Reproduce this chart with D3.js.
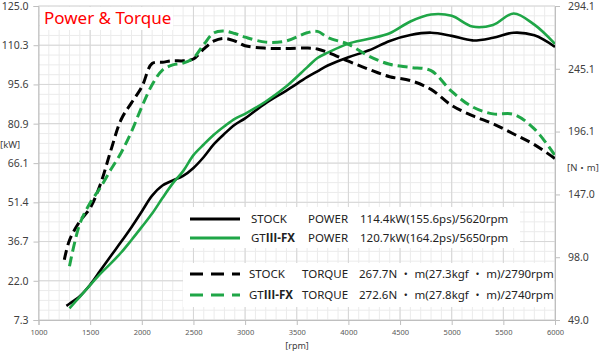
<!DOCTYPE html>
<html>
<head>
<meta charset="utf-8">
<script src="https://cdn.jsdelivr.net/npm/d3@7"></script>
<style>
  body { margin: 0; background: #fff; }
  text { font-family: "Noto Sans", "Noto Sans CJK JP", sans-serif; }
</style>
</head>
<body>
<div id="chart"></div>
<script>
// values
const rpm = [1250, 1300, 1400, 1500, 1600, 1700, 1800, 1900, 2000, 2100, 2200, 2300, 2400, 2500, 2600, 2700, 2800, 2900, 3000,
    3200, 3400, 3600, 3700, 3800, 4000, 4200, 4400, 4600, 4800, 5000, 5200, 5400, 5600, 5800, 6000];

// kW
const stockPower = [null, 13.4, 16.2, 20.5, 25.9, 31.3, 36.6, 42.1, 48.0, 53.9, 57.7, 59.6, 61.3, 64.3, 68.4, 73.3, 77.1, 80.5, 82.9,
    88.6, 93.3, 98.3, 100.5, 102.7, 105.8, 108.4, 111.9, 114.1, 115.0, 113.8, 112.1, 113.1, 115.0, 114.0, 109.7];
const gtPower = [null, 11.7, 16.0, 20.4, 24.7, 28.5, 32.6, 37.3, 42.2, 47.2, 53.0, 58.5, 63.1, 69.1, 73.1, 76.8, 79.9, 82.7, 84.6,
    89.2, 94.9, 102.0, 105.5, 107.5, 110.9, 112.7, 114.8, 119.2, 121.8, 121.3, 117.3, 117.9, 122.2, 118.0, 110.8];

// N・m
const stockTorque = [96.0, 111.3, 126.1, 136.4, 155.1, 181.3, 205.5, 218.5, 230.9, 249.2, 250.2, 251.4, 251.3, 252.7, 260.6, 266.8, 268.8, 266.8, 263.1,
    261.2, 261.0, 261.3, 260.6, 257.9, 251.0, 244.6, 238.9, 235.9, 229.0, 216.5, 208.5, 202.2, 194.2, 185.9, 175.0];
const gtTorque = [null, 91.0, 124.1, 140.4, 152.5, 166.4, 179.6, 196.0, 215.4, 232.6, 244.1, 248.1, 249.5, 253.5, 264.1, 273.2, 274.5, 272.6, 269.8,
    265.9, 266.8, 273.2, 274.3, 269.5, 264.2, 254.9, 248.6, 246.2, 243.6, 227.4, 215.4, 209.9, 209.5, 198.2, 177.4];

const stockPowerStart = [1270, 12.6];   // stock power trace starts a little later than the torque trace

const rpmTicks = [1000, 1500, 2000, 2500, 3000, 3500, 4000, 4500, 5000, 5500, 6000];
const powerTicks = [7.3, 22.0, 36.7, 51.4, 66.1, 80.9, 95.6, 110.3, 125.0];
const torqueTicks = [49.0, 98.0, 147.0, 196.1, 245.1, 294.1];

const legendKind = ["POWER", "POWER", "TORQUE", "TORQUE"];
const legendValue = [
    "114.4kW(155.6ps)/5620rpm",
    "120.7kW(164.2ps)/5650rpm",
    "267.7N ・ m(27.3kgf ・ m)/2790rpm",
    "272.6N ・ m(27.8kgf ・ m)/2740rpm"
];

const GREEN = "#1fa647";

var width = 600, height = 352;

var svg = d3.select("#chart")
    .append("svg")
    .attr("width", width)
    .attr("height", height);

var x = d3.scaleLinear().domain([1000, 6000]).range([38.5, 555]);
var yP = d3.scaleLinear().domain([7.3, 125.0]).range([320, 6]);
var yT = d3.scaleLinear().domain([49.0, 294.1]).range([320, 6]);

// graph paper grid
var grid = svg.append("g");
grid.selectAll("vMinor")
    .data(d3.range(1000, 6001, 100))
    .enter().append("line")
    .attr("x1", d => x(d)).attr("x2", d => x(d))
    .attr("y1", yP(125)).attr("y2", yP(7.3))
    .attr("stroke", "#ebebeb");
grid.selectAll("hMinor")
    .data(d3.range(0, 33).map(i => 7.3 + i * (125 - 7.3) / 32))
    .enter().append("line")
    .attr("x1", x(1000)).attr("x2", x(6000))
    .attr("y1", d => yP(d)).attr("y2", d => yP(d))
    .attr("stroke", "#ebebeb");
grid.selectAll("vMajor")
    .data(rpmTicks)
    .enter().append("line")
    .attr("x1", d => x(d)).attr("x2", d => x(d))
    .attr("y1", yP(125)).attr("y2", yP(7.3))
    .attr("stroke", "#d6d6d6");
grid.selectAll("hMajor")
    .data(powerTicks)
    .enter().append("line")
    .attr("x1", x(1000)).attr("x2", x(6000))
    .attr("y1", d => yP(d)).attr("y2", d => yP(d))
    .attr("stroke", "#d6d6d6");

// white boxes over the grid
svg.append("rect").attr("x", 40).attr("y", 7).attr("width", 133).attr("height", 23).attr("fill", "#fff");
svg.append("rect").attr("x", 180).attr("y", 207).attr("width", 340).attr("height", 41).attr("fill", "#fff");
svg.append("rect").attr("x", 183).attr("y", 263).attr("width", 371).attr("height", 44).attr("fill", "#fff");

svg.append("text")
    .attr("x", 44).attr("y", 24)
    .style("font-size", "17px")
    .attr("fill", "#ff0000")
    .text("Power & Torque");

// curves
var series = [
    {vals: stockPower, y: yP, color: "#000", dash: null},
    {vals: gtPower, y: yP, color: GREEN, dash: null},
    {vals: stockTorque, y: yT, color: "#000", dash: "10,5"},
    {vals: gtTorque, y: yT, color: GREEN, dash: "10,5"}
];

series.forEach(function(s, k) {
    var line = d3.line()
        .defined(d => d[1] != null)
        .x(d => x(d[0]))
        .y(d => s.y(d[1]))
        .curve(d3.curveCatmullRom.alpha(0.5));
    var pts = rpm.map((r, i) => [r, s.vals[i]]);
    if (k == 0) pts[0] = stockPowerStart;
    svg.append("path")
        .datum(pts)
        .attr("d", line)
        .attr("fill", "none")
        .attr("stroke", s.color)
        .attr("stroke-width", s.dash ? 3 : 2.6)
        .attr("stroke-dasharray", s.dash);
});

// axes
var axisL = svg.append("g")
    .attr("transform", "translate(" + x(1000) + ",0)")
    .call(d3.axisLeft(yP).tickValues(powerTicks).tickFormat(d3.format(".1f")).tickSize(5).tickPadding(5));
var axisR = svg.append("g")
    .attr("transform", "translate(" + x(6000) + ",0)")
    .call(d3.axisRight(yT).tickValues(torqueTicks).tickFormat(d3.format(".1f")).tickSize(5).tickPadding(8));
var axisB = svg.append("g")
    .attr("transform", "translate(0," + yP(7.3) + ")")
    .call(d3.axisBottom(x).tickValues(rpmTicks).tickFormat(d3.format("d")).tickSize(5).tickPadding(5));

[axisL, axisR, axisB].forEach(function(a) {
    a.select(".domain").attr("stroke", "#bfbfbf");
    a.selectAll(".tick line").attr("stroke", "#bfbfbf");
    a.selectAll("text").attr("fill", "#404040").style("font-family", "'Noto Sans', sans-serif");
});
axisL.selectAll("text").style("font-size", "10.5px");
axisR.selectAll("text").style("font-size", "10.5px");
axisB.selectAll("text").style("font-size", "7.5px").attr("fill", "#595959");

svg.append("text").attr("x", 0).attr("y", 148)
    .style("font-size", "9.5px").attr("fill", "#404040").text("[kW]");
svg.append("text").attr("x", 567).attr("y", 171)
    .style("font-size", "9.5px").attr("fill", "#404040").text("[N・m]");
svg.append("text").attr("x", 297).attr("y", 349)
    .attr("text-anchor", "middle")
    .style("font-size", "9px").attr("fill", "#404040").text("[rpm]");

// legend
var rowY = [219, 238, 274, 295];
var colX = [[251, 308, 360], [251, 308, 360], [249, 302, 359], [249, 302, 359]];

series.forEach(function(s, i) {
    svg.append("line")
        .attr("x1", 190).attr("x2", 240)
        .attr("y1", rowY[i]).attr("y2", rowY[i])
        .attr("stroke", s.color)
        .attr("stroke-width", 3)
        .attr("stroke-dasharray", s.dash ? "13,8" : null);

    var name = svg.append("text")
        .attr("x", colX[i][0]).attr("y", rowY[i] + 4)
        .style("font-size", "11.5px").attr("fill", "#222");
    if (i % 2 == 0) {
        name.text("STOCK");
    } else {
        name.append("tspan").text("GT");
        name.append("tspan").text("Ⅲ")
            .style("font-family", "'Noto Sans CJK JP', sans-serif")
            .style("font-weight", "bold");
        name.append("tspan").text("-FX").style("font-weight", "bold");
    }
    svg.append("text")
        .attr("x", colX[i][1]).attr("y", rowY[i] + 4)
        .style("font-size", "11.5px").attr("fill", "#222")
        .text(legendKind[i]);
    svg.append("text")
        .attr("x", colX[i][2]).attr("y", rowY[i] + 4)
        .style("font-size", "11.5px").attr("fill", "#222")
        .text(legendValue[i]);
});
</script>
</body>
</html>
